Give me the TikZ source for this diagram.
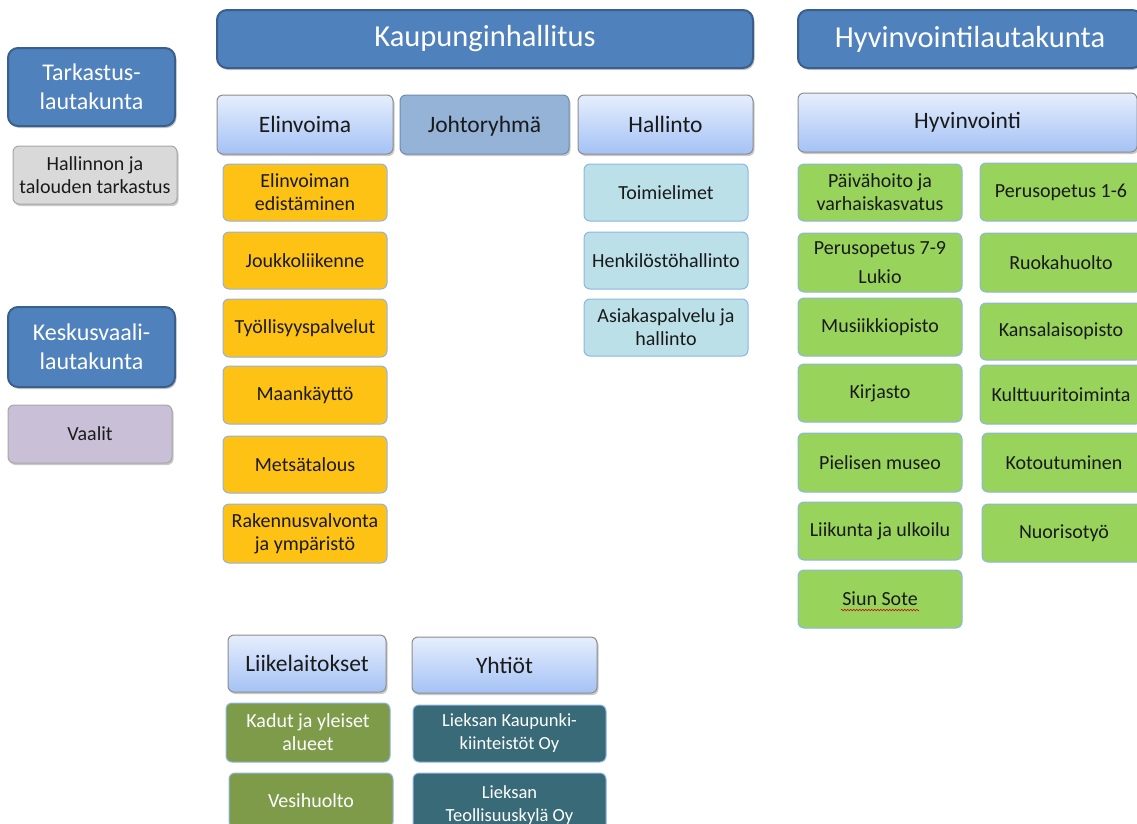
\documentclass[tikz,border=0pt]{standalone}
\usepackage{fontspec}
\setmainfont{Carlito}
\usetikzlibrary{shadows,decorations.pathmorphing}
\definecolor{hdrblue}{HTML}{4F81BD}
\definecolor{hdrborder}{HTML}{3A5F8C}
\definecolor{lighttop}{HTML}{E6EEFD}
\definecolor{lightbot}{HTML}{A4C2F5}
\definecolor{johto}{HTML}{95B3D7}
\definecolor{johtoborder}{HTML}{6A8CB8}
\definecolor{orangefill}{HTML}{FEC214}
\definecolor{cyanfill}{HTML}{BCE0E8}
\definecolor{greenfill}{HTML}{98D35C}
\definecolor{grayfill}{HTML}{D9D9D9}
\definecolor{lavfill}{HTML}{C9BFD7}
\definecolor{olivefill}{HTML}{7E9B4A}
\definecolor{tealfill}{HTML}{386A77}
\definecolor{thinborder}{HTML}{8EB4E3}
\definecolor{txt}{HTML}{1A1A1A}
\tikzset{
  base/.style={rounded corners=6pt, align=center, inner sep=0pt, outer sep=0pt,
    anchor=north west, text=txt, font=\fontsize{20}{23}\selectfont,
    line width=1pt},
  shad/.style={drop shadow={shadow xshift=1.5pt, shadow yshift=-2pt, opacity=0.35, fill=black!60}},
  hdrbox/.style={base, shad, rounded corners=10pt, fill=hdrblue, draw=hdrborder,
    line width=2pt, text=white, font=\fontsize{30.5}{34}\selectfont},
  lautbox/.style={hdrbox, font=\fontsize{24}{29}\selectfont},
  lightbox/.style={base, shad, top color=lighttop, bottom color=lightbot,
    draw=black!45, font=\fontsize{23.5}{27}\selectfont},
  johtobox/.style={base, shad, fill=johto, draw=johtoborder,
    font=\fontsize{23.5}{27}\selectfont, text depth=0pt},
  orangebox/.style={base, fill=orangefill, draw=thinborder},
  cyanbox/.style={base, fill=cyanfill, draw=thinborder},
  greenbox/.style={base, fill=greenfill, draw=thinborder},
  graybox/.style={base, shad, fill=grayfill, draw=black!35},
  lavbox/.style={base, shad, fill=lavfill, draw=black!35},
  olivebox/.style={base, fill=olivefill, draw=thinborder, text=white},
  tealbox/.style={base, fill=tealfill, draw=thinborder, text=white,
    font=\fontsize{18.5}{23}\selectfont},
}
% \bx{style}{name}{x1}{y1}{x2}{y2}{text}
\newcommand\bx[7]{\node[#1, minimum width={(#5-#3)*1pt}, minimum height={(#6-#4)*1pt}] (#2) at (#3,#4) {#7};}
\begin{document}
\begin{tikzpicture}[x=1pt, y=-1pt]
\useasboundingbox (0,0) rectangle (1137,823);
\clip (0,0) rectangle (1137,823);
% top row
\bx{hdrbox}{kh}{217}{10}{753}{68}{Kaupunginhallitus}
\bx{hdrbox}{hl}{798}{10}{1142}{68}{Hyvinvointilautakunta}
% left column
\bx{lautbox}{tl}{8}{48}{175}{126}{Tarkastus-\\lautakunta}
\bx{graybox}{ht}{13}{146}{177}{204}{Hallinnon ja\\talouden tarkastus}
\bx{lautbox}{kl}{8}{307}{175}{387}{Keskusvaali-\\lautakunta}
\bx{lavbox}{va}{8}{405}{172}{463}{Vaalit}
% second row
\bx{lightbox}{ev}{217}{95}{393}{154}{Elinvoima}
\bx{johtobox}{jr}{400}{95}{569}{154}{Johtoryhmä}
\bx{lightbox}{ha}{578}{95}{753}{154}{Hallinto}
\bx{lightbox}{hv}{798}{93}{1137}{152}{Hyvinvointi}
% Elinvoima column
\bx{orangebox}{e1}{223}{164}{387}{221}{Elinvoiman\\edistäminen}
\bx{orangebox}{e2}{223}{232}{387}{289}{Joukkoliikenne}
\bx{orangebox}{e3}{223}{299}{387}{357}{Työllisyyspalvelut}
\bx{orangebox}{e4}{223}{366}{387}{424}{Maankäyttö}
\bx{orangebox}{e5}{223}{436}{387}{493}{Metsätalous}
\bx{orangebox}{e6}{223}{504}{387}{563}{Rakennusvalvonta\\ja ympäristö}
% Hallinto column
\bx{cyanbox}{c1}{584}{164}{748}{221}{Toimielimet}
\bx{cyanbox}{c2}{584}{232}{748}{289}{Henkilöstöhallinto}
\bx{cyanbox}{c3}{584}{299}{748}{356}{Asiakaspalvelu ja\\hallinto}
% Hyvinvointi left column
\bx{greenbox}{g1}{798}{164}{962}{221}{Päivähoito ja\\varhaiskasvatus}
\bx{greenbox}{g2}{798}{233}{962}{292}{Perusopetus 7-9\\[6pt]Lukio}
\bx{greenbox}{g3}{798}{298}{962}{356}{Musiikkiopisto}
\bx{greenbox}{g4}{798}{364}{962}{422}{Kirjasto}
\bx{greenbox}{g5}{798}{433}{962}{492}{Pielisen museo}
\bx{greenbox}{g6}{798}{502}{962}{560}{Liikunta ja ulkoilu}
\bx{greenbox}{g7}{798}{570}{962}{628}{Siun Sote}
% Hyvinvointi right column
\bx{greenbox}{r1}{980}{163}{1142}{221}{Perusopetus 1-6}
\bx{greenbox}{r2}{980}{233}{1142}{292}{Ruokahuolto}
\bx{greenbox}{r3}{980}{303}{1142}{360}{Kansalaisopisto}
\bx{greenbox}{r4}{980}{365}{1142}{424}{Kulttuuritoiminta}
\bx{greenbox}{r5}{982}{433}{1146}{492}{Kotoutuminen}
\bx{greenbox}{r6}{982}{504}{1146}{562}{Nuorisotyö}
% bottom
\bx{lightbox}{ll}{228}{635}{386}{692}{Liikelaitokset}
\bx{lightbox}{yh}{412}{637}{597}{693}{Yhtiöt}
\bx{olivebox}{k1}{226}{703}{390}{762}{Kadut ja yleiset\\alueet}
\bx{olivebox}{k2}{229}{773}{393}{828}{Vesihuolto}
\bx{tealbox}{y1}{413}{705}{606}{762}{Lieksan Kaupunki-\\kiinteistöt Oy}
\bx{tealbox}{y2}{413}{773}{606}{838}{Lieksan\\Teollisuuskylä Oy}
% spell-check squiggle
\draw[red!80!black, line width=0.6pt, decorate, decoration={zigzag, segment length=3pt, amplitude=0.8pt}]
  ([xshift=-39pt, yshift=-11pt]g7.center) -- ([xshift=39pt, yshift=-11pt]g7.center);
\end{tikzpicture}
\end{document}
